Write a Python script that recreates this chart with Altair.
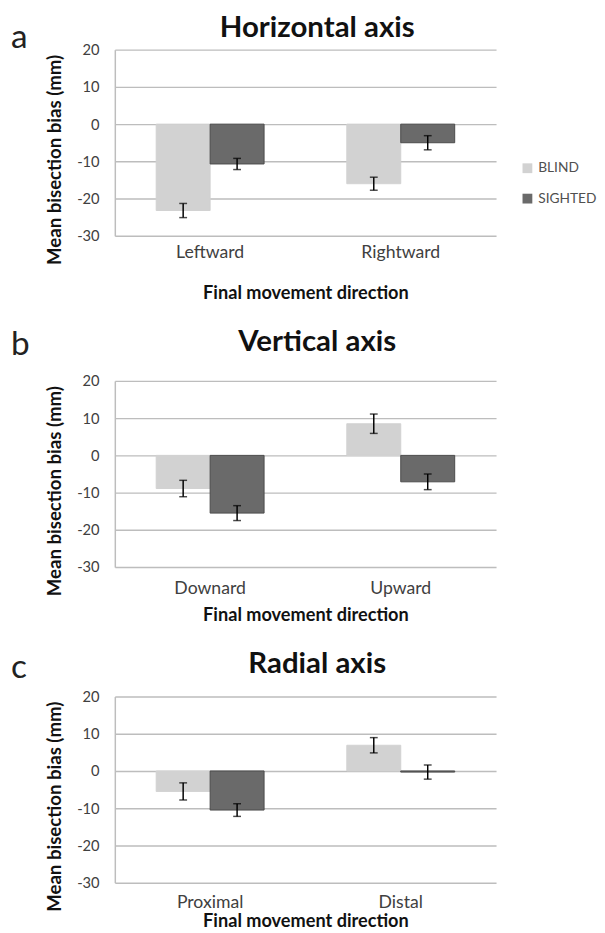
import altair as alt
import pandas as pd

FONT = "Lato"
groups = ["BLIND", "SIGHTED"]
colors = ["#d2d2d2", "#6a6a6a"]

letters = ["a", "b", "c"]
titles = ["Horizontal axis", "Vertical axis", "Radial axis"]
cats = [["Leftward", "Rightward"], ["Downard", "Upward"], ["Proximal", "Distal"]]
blind_vals = [[-23.2, -16.0], [-8.9, 8.5], [-5.5, 6.9]]
sighted_vals = [[-10.7, -5.0], [-15.5, -7.1], [-10.5, -0.3]]
blind_se = [[1.9, 1.75], [2.2, 2.6], [2.3, 2.05]]
sighted_se = [[1.5, 1.9], [2.0, 2.1], [1.7, 1.9]]
y_ticks = [-30, -20, -10, 0, 10, 20]

# layout per panel (title offset, x-title padding, x-label padding, letter baseline)
title_offsets = [-22, -28, -28]
xtitle_pads = [23, 9, 1]
xlabel_pads = [8, 13, 11]
letter_y = [-2, -26, -19]

W, H = 389, 190


def panel(i):
    rows = []
    for j, c in enumerate(cats[i]):
        rows.append({"cat": c, "group": "BLIND", "v": blind_vals[i][j], "se": blind_se[i][j]})
        rows.append({"cat": c, "group": "SIGHTED", "v": sighted_vals[i][j], "se": sighted_se[i][j]})
    df = pd.DataFrame(rows)
    df["lo"] = df["v"] - df["se"]
    df["hi"] = df["v"] + df["se"]

    xax = alt.Axis(labelAngle=0, ticks=False, domain=False, labelPadding=xlabel_pads[i],
                   labelFontSize=18, labelColor="#404040", labelFont=FONT,
                   titleFont=FONT, titleFontSize=18.5, titleFontWeight="bold",
                   titleColor="#111111", titlePadding=xtitle_pads[i])
    xsc = alt.Scale(paddingInner=0.434, paddingOuter=0.217)
    x = alt.X("cat:N", sort=cats[i], title="Final movement direction", scale=xsc, axis=xax)
    xo = alt.XOffset("group:N", sort=groups, scale=alt.Scale(paddingInner=0, paddingOuter=0))
    yscale = alt.Scale(domain=[-30, 20], nice=False, zero=False)
    yax = alt.Axis(values=y_ticks, tickCount=6, ticks=False, domain=True, domainColor="#bdbdbd",
                   domainWidth=1.5, grid=True, gridColor="#bdbdbd", gridWidth=1.5,
                   labelExpr="'' + datum.value", labelPadding=16, labelFontSize=15,
                   labelOverlap=False, labelColor="#404040", labelFont=FONT,
                   titleFont=FONT, titleFontSize=19, titleFontWeight="bold",
                   titleColor="#111111", titleAngle=270, titleX=-61, titleY=112,
                   titleAlign="center", titleBaseline="middle")
    ytitle = "Mean bisection bias (mm)"

    base = alt.Chart(df)
    bars = base.mark_bar(strokeWidth=1).encode(
        x=x, xOffset=xo,
        y=alt.Y("v:Q", scale=yscale, title=ytitle, axis=yax),
        y2=alt.datum(0),
        color=alt.Color("group:N", sort=groups,
                        scale=alt.Scale(domain=groups, range=colors),
                        legend=alt.Legend(title=None, orient="none", legendX=414, legendY=114,
                                          symbolType="square", symbolSize=100,
                                          symbolStrokeWidth=0, rowPadding=17, padding=0,
                                          labelFont=FONT, labelFontSize=14,
                                          labelColor="#505050", labelOffset=4)),
        stroke=alt.Stroke("group:N", sort=groups,
                          scale=alt.Scale(domain=groups, range=["#d2d2d2", "#4a4a4a"]),
                          legend=None),
    )
    rule = base.mark_rule(color="black", strokeWidth=1.5).encode(
        x=x, xOffset=xo,
        y=alt.Y("lo:Q", scale=yscale, title=ytitle, axis=yax), y2="hi:Q")
    cap_lo = base.mark_tick(color="black", thickness=1.5, size=8).encode(
        x=x, xOffset=xo, y=alt.Y("lo:Q", scale=yscale, title=ytitle, axis=yax))
    cap_hi = base.mark_tick(color="black", thickness=1.5, size=8).encode(
        x=x, xOffset=xo, y=alt.Y("hi:Q", scale=yscale, title=ytitle, axis=yax))
    letter = alt.Chart(pd.DataFrame({"t": [letters[i]]})).mark_text(
        align="left", baseline="alphabetic", fontSize=34, font=FONT, color="#222222"
    ).encode(text="t:N", x=alt.value(-106), y=alt.value(letter_y[i]))

    return alt.layer(bars, rule, cap_lo, cap_hi, letter).properties(
        width=W, height=H,
        title=alt.TitleParams(titles[i], fontSize=30, font=FONT, fontWeight="bold",
                              color="#111111", offset=title_offsets[i], dx=12),
    )


chart = alt.vconcat(panel(0), panel(1), panel(2), spacing=25).properties(
    padding={"top": -4, "left": 3, "right": 0, "bottom": 0}
).configure_view(stroke=None).configure_axis(labelFont=FONT)

chart.save("out.html", embed_options={"renderer": "svg", "actions": False})
